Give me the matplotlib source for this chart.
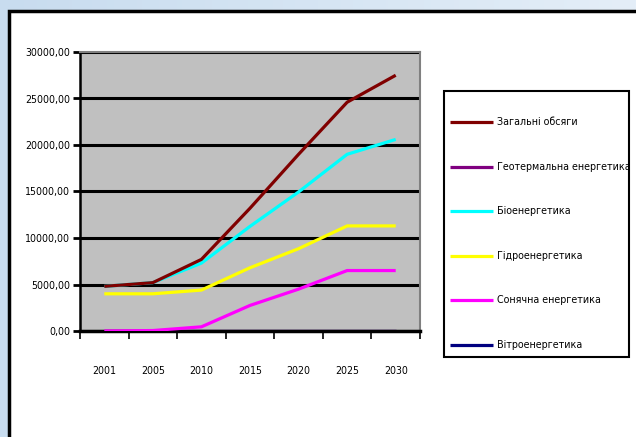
import numpy as np
import matplotlib.pyplot as plt
from matplotlib.patches import Rectangle
from matplotlib.colors import LinearSegmentedColormap
from matplotlib import font_manager
from matplotlib.font_manager import FontProperties

# look for a narrow / condensed sans face, fall back to Liberation Sans
def pick_font():
    cands = []
    for f in font_manager.fontManager.ttflist:
        narrow = ("Narrow" in f.name or "Condensed" in f.name
                  or f.stretch in ("condensed", "semi-condensed"))
        if not narrow or f.style != "normal" or f.weight not in (400, "normal", "regular"):
            continue
        if "Mono" in f.name or "Serif" in f.name or "CJK" in f.name:
            continue
        rank = 0 if "Liberation" in f.name or "Arial" in f.name else 1
        cands.append((rank, f.fname))
    if cands:
        return FontProperties(fname=sorted(cands)[0][1]), 1.0
    return FontProperties(family="Liberation Sans"), 0.9

FP, SCALE = pick_font()
TICK_FS = 7.6 * SCALE
LEG_FS = 7.7 * SCALE

years = ["2001", "2005", "2010", "2015", "2020", "2025", "2030"]

total = [4800, 5200, 7700, 13200, 19000, 24600, 27500]
geothermal = [0, 0, 0, 0, 0, 0, 0]
bio = [4800, 5200, 7300, 11250, 14950, 19000, 20600]
hydro = [4000, 4000, 4400, 6800, 8850, 11300, 11300]
solar = [0, 50, 450, 2750, 4500, 6500, 6500]
wind = [0, 0, 0, 0, 0, 0, 0]

labels = ["Загальні обсяги", "Геотермальна енергетика", "Біоенергетика",
          "Гідроенергетика", "Сонячна енергетика", "Вітроенергетика"]
colors = ["#800000", "#800080", "#00FFFF", "#FFFF00", "#FF00FF", "#000080"]
zorders = [6, 2, 5, 4, 3, 1]

W, H = 636, 437
fig = plt.figure(figsize=(W / 100, H / 100), dpi=100)

# light blue backdrop, axes in pixel units (y down)
bg = fig.add_axes([0, 0, 1, 1], zorder=-10)
grad = np.linspace(0, 1, 256).reshape(1, -1)
cmap = LinearSegmentedColormap.from_list("bg", ["#c8dcef", "#e4eef8"])
bg.imshow(grad, aspect="auto", cmap=cmap, extent=[0, W, H, 0])
bg.set_xlim(0, W)
bg.set_ylim(H, 0)
bg.axis("off")

# white panel with black border
bg.add_patch(Rectangle((8.5, 11), W + 20, H + 20,
                       facecolor="white", edgecolor="black", lw=2.5))

ax = fig.add_axes([80 / W, 1 - 331 / H, 340 / W, 279 / H])
ax.set_facecolor("#c0c0c0")
x = np.arange(len(years))
series = [total, geothermal, bio, hydro, solar, wind]
for vals, lab, col, z in zip(series, labels, colors, zorders):
    ax.plot(x, vals, color=col, lw=2.3, label=lab, zorder=z,
            solid_capstyle="butt")

ax.set_xlim(-0.5, 6.5)
ax.set_ylim(0, 30000)
yt = np.arange(0, 30001, 5000)
ax.set_yticks(yt)
ax.set_yticklabels([f"{v:.2f}".replace(".", ",") for v in yt],
                   fontproperties=FP, fontsize=TICK_FS)
ax.yaxis.grid(True, color="black", lw=2.2)
ax.set_axisbelow(True)
ax.set_xticks(x)
ax.set_xticklabels(years, fontproperties=FP, fontsize=TICK_FS)
ax.set_xticks(np.arange(-0.5, 7, 1), minor=True)
ax.tick_params(axis="x", which="major", length=0, pad=25)
ax.tick_params(axis="x", which="minor", length=6, width=1.2, direction="out")
ax.tick_params(axis="y", length=5, width=2, direction="out", pad=2)
for s in ["top", "right"]:
    ax.spines[s].set_color("#808080")
    ax.spines[s].set_linewidth(1.5)
ax.spines["left"].set_linewidth(1.8)
ax.spines["bottom"].set_linewidth(2.5)

# legend box drawn by hand on the pixel-unit backdrop
bg.add_patch(Rectangle((444, 91), 185, 266, facecolor="white",
                       edgecolor="black", lw=1.5, zorder=3))
for i, (lab, col) in enumerate(zip(labels, colors)):
    yy = 122 + 44.6 * i
    bg.plot([450, 493], [yy, yy], color=col, lw=2.3, zorder=4,
            solid_capstyle="butt")
    bg.text(497, yy, lab, fontproperties=FP, fontsize=LEG_FS,
            va="center", ha="left", zorder=4)

fig.savefig("out.png", dpi=100)
